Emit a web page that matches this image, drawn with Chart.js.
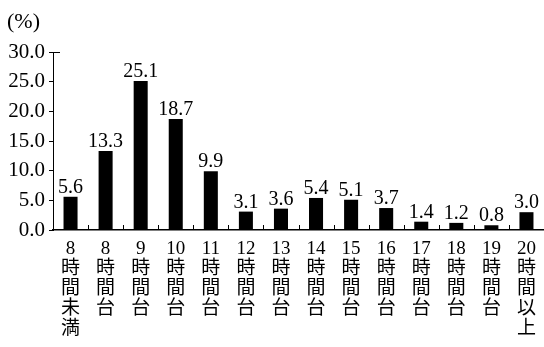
<!DOCTYPE html>
<html>
<head>
<meta charset="utf-8">
<script src="https://cdn.jsdelivr.net/npm/chart.js@4"></script>
<style>
  html, body { margin: 0; padding: 0; background: #fff; }
  #wrap { width: 544px; height: 347px; }
</style>
</head>
<body>
<div id="wrap"><canvas id="chartOre"></canvas></div>
<script>
// dati
const fasce = [
    ['8', '時', '間', '未', '満'],
    ['8', '時', '間', '台'],
    ['9', '時', '間', '台'],
    ['10', '時', '間', '台'],
    ['11', '時', '間', '台'],
    ['12', '時', '間', '台'],
    ['13', '時', '間', '台'],
    ['14', '時', '間', '台'],
    ['15', '時', '間', '台'],
    ['16', '時', '間', '台'],
    ['17', '時', '間', '台'],
    ['18', '時', '間', '台'],
    ['19', '時', '間', '台'],
    ['20', '時', '間', '以', '上']
];
const percentuali = [5.6, 13.3, 25.1, 18.7, 9.9, 3.1, 3.6, 5.4, 5.1, 3.7, 1.4, 1.2, 0.8, 3.0];
const yMin = 0;
const yMax = 30;
const yStep = 5;
const unita = '(%)';

const serif = '"Liberation Serif", "Noto Sans CJK JP", serif';

// etichette valori + tacche asse x + unità
const decorazioni = {
    id: 'decorazioni',
    afterDatasetsDraw(chart) {
        const c = chart.ctx;
        const area = chart.chartArea;
        const x = chart.scales.x;
        const y = chart.scales.y;
        c.save();
        c.fillStyle = '#000';
        c.strokeStyle = '#000';
        c.lineWidth = 1;

        // valori sopra le barre
        c.font = '20px ' + serif;
        c.textAlign = 'center';
        c.textBaseline = 'alphabetic';
        chart.getDatasetMeta(0).data.forEach((bar, i) => {
            c.fillText(percentuali[i].toFixed(1), bar.x, bar.y - 4);
        });

        // tacche tra le categorie, verso l'alto
        c.beginPath();
        for (let i = 1; i < fasce.length; i++) {
            const px = Math.round((x.getPixelForValue(i - 1) + x.getPixelForValue(i)) / 2) + 0.5;
            c.moveTo(px, area.bottom);
            c.lineTo(px, area.bottom - 5);
        }
        // tacca in cima all'asse y
        const top = Math.round(y.getPixelForValue(yMax)) + 0.5;
        c.moveTo(area.left, top);
        c.lineTo(area.left + 7, top);
        c.stroke();

        // unità
        c.font = '22px ' + serif;
        c.textAlign = 'left';
        c.textBaseline = 'middle';
        c.fillText(unita, 7, 22);
        c.restore();
    }
};

const ctx = document.getElementById('chartOre').getContext('2d');

const dataOre = {
    labels: fasce,
    datasets: [{
        data: percentuali,
        backgroundColor: '#000',
        borderWidth: 0,
        barPercentage: 0.4,
        categoryPercentage: 1.0
    }]
};

const configOre = {
    type: 'bar',
    data: dataOre,
    options: {
        responsive: true,
        maintainAspectRatio: false,
        animation: false,
        layout: { padding: { top: 52, right: 0, left: 0, bottom: 0 } },
        plugins: {
            legend: { display: false },
            tooltip: { enabled: false }
        },
        scales: {
            x: {
                grid: { display: false },
                border: { display: true, color: '#000', width: 1.5 },
                ticks: {
                    color: '#000',
                    autoSkip: false,
                    maxRotation: 0,
                    padding: 1,
                    font: { family: serif, size: 19, lineHeight: '20px' }
                },
                afterFit(scale) { scale.height = 117; }
            },
            y: {
                min: yMin,
                max: yMax,
                grid: { drawOnChartArea: false, color: '#000', tickLength: 4 },
                border: { display: true, color: '#000', width: 1 },
                ticks: {
                    stepSize: yStep,
                    color: '#000',
                    padding: 4,
                    font: { family: serif, size: 21 },
                    callback: (v) => Number(v).toFixed(1)
                },
                afterFit(scale) { scale.width = 53; }
            }
        }
    },
    plugins: [decorazioni]
};

// avvio chart
const chartOre = new Chart(ctx, configOre);
</script>
</body>
</html>
